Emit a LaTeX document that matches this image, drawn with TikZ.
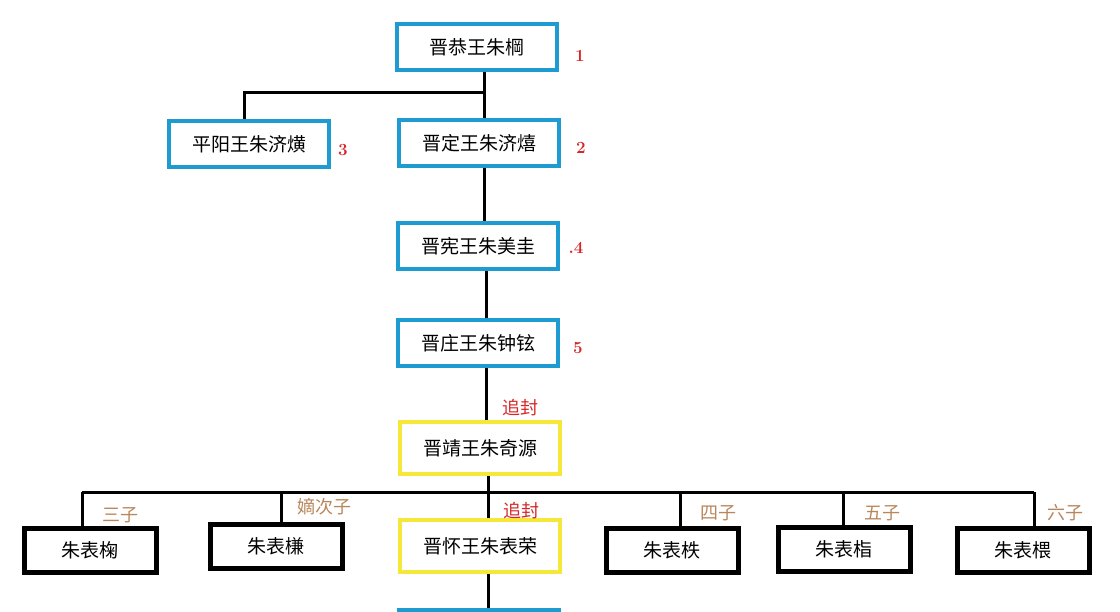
\documentclass[tikz,border=0pt]{standalone}
\usepackage{fontspec}
\newfontfamily\cjk{Noto Sans CJK SC}
\usetikzlibrary{positioning}
\definecolor{kingblue}{HTML}{1E9BD0}
\definecolor{posthum}{HTML}{F5E83A}
\definecolor{rankred}{HTML}{D42828}
\definecolor{sonbrown}{HTML}{B8865A}
\tikzset{
    king/.style={
        rectangle,
        draw=kingblue,
        line width=4pt,
        minimum width=160pt,
        minimum height=46pt,
        fill=white,
        font=\cjk\fontsize{19}{21}\selectfont
    },
    titled/.style={
        king,
        draw=posthum,
        minimum height=52pt
    },
    son/.style={
        rectangle,
        draw=black,
        line width=5pt,
        minimum width=132pt,
        minimum height=44pt,
        fill=white,
        font=\cjk\fontsize{19}{21}\selectfont
    },
    link/.style={
        draw=black,
        line width=3pt
    },
    rank/.style={
        text=rankred,
        font=\bfseries\fontsize{17}{19}\selectfont
    },
    posttitle/.style={
        text=rankred,
        font=\cjk\fontsize{18}{20}\selectfont
    },
    order/.style={
        text=sonbrown,
        font=\cjk\fontsize{18}{20}\selectfont
    }
}

\begin{document}
\begin{tikzpicture}[x=1pt,y=-1pt]
\useasboundingbox (0,0) rectangle (1120,611);

% Main line of the princes
\node[king] (gong) at (477,47) {晋恭王朱棡};
\node[king] (ding) at (479,143) {晋定王朱济熺};
\node[king] (pingyang) at (249,144) {平阳王朱济熿};
\node[king] (xian) at (478,246) {晋宪王朱美圭};
\node[king] (zhuang) at (478,343) {晋庄王朱钟铉};
\node[titled] (jing) at (480,448) {晋靖王朱奇源};
\node[titled] (huai) at (480,546) {晋怀王朱表荣};
\node[king, anchor=north] (next) at (479,608) {};

% Ranks
\node[rank] at (580,56) {1};
\node[rank] at (581,148) {2};
\node[rank] at (343,150) {3};
\node[rank] at (576,248) {.4};
\node[rank] at (578,348) {5};

% Sons of the Jing prince
\node[son] (ju) at (90,550) {朱表椈};
\node[son] (qian) at (276,546) {朱表槏};
\node[son] (zhi) at (672,550) {朱表柣};
\node[son] (zhi2) at (844,549) {朱表栺};
\node[son] (wei) at (1023,550) {朱表椳};

\node[order] at (120,515) {三子};
\node[order] at (324,507) {嫡次子};
\node[order] at (718,513) {四子};
\node[order] at (882,513) {五子};
\node[order] at (1065,513) {六子};
\node[posttitle] at (520,408) {追封};
\node[posttitle] at (521,511) {追封};

% Connectors
\coordinate (fork1) at (484,92);
\coordinate (fork2) at (488,492);
\coordinate (trunk) at (486,0);
\coordinate (cpy) at (244,0);
\coordinate (c1) at (82,0);
\coordinate (c2) at (281,0);
\coordinate (c4) at (680,0);
\coordinate (c5) at (843,0);
\coordinate (c6) at (1034,0);
\draw[link] (gong.south -| fork1) -- (ding.north -| fork1);
\draw[link] (fork1) -| (pingyang.north -| cpy);
\draw[link] (ding.south -| fork1) -- (xian.north -| fork1);
\draw[link] (xian.south -| trunk) -- (zhuang.north -| trunk);
\draw[link] (zhuang.south -| trunk) -- (jing.north -| trunk);
\draw[link] (jing.south -| fork2) -- (huai.north -| fork2);
\draw[link] (huai.south -| fork2) -- (next.north -| fork2);
\draw[link] (fork2 -| c1) -- (fork2 -| c6);
\draw[link] (fork2 -| c1) -- (ju.north -| c1);
\draw[link] (fork2 -| c2) -- (qian.north -| c2);
\draw[link] (fork2 -| c4) -- (zhi.north -| c4);
\draw[link] (fork2 -| c5) -- (zhi2.north -| c5);
\draw[link] (fork2 -| c6) -- (wei.north -| c6);

\end{tikzpicture}
\end{document}
